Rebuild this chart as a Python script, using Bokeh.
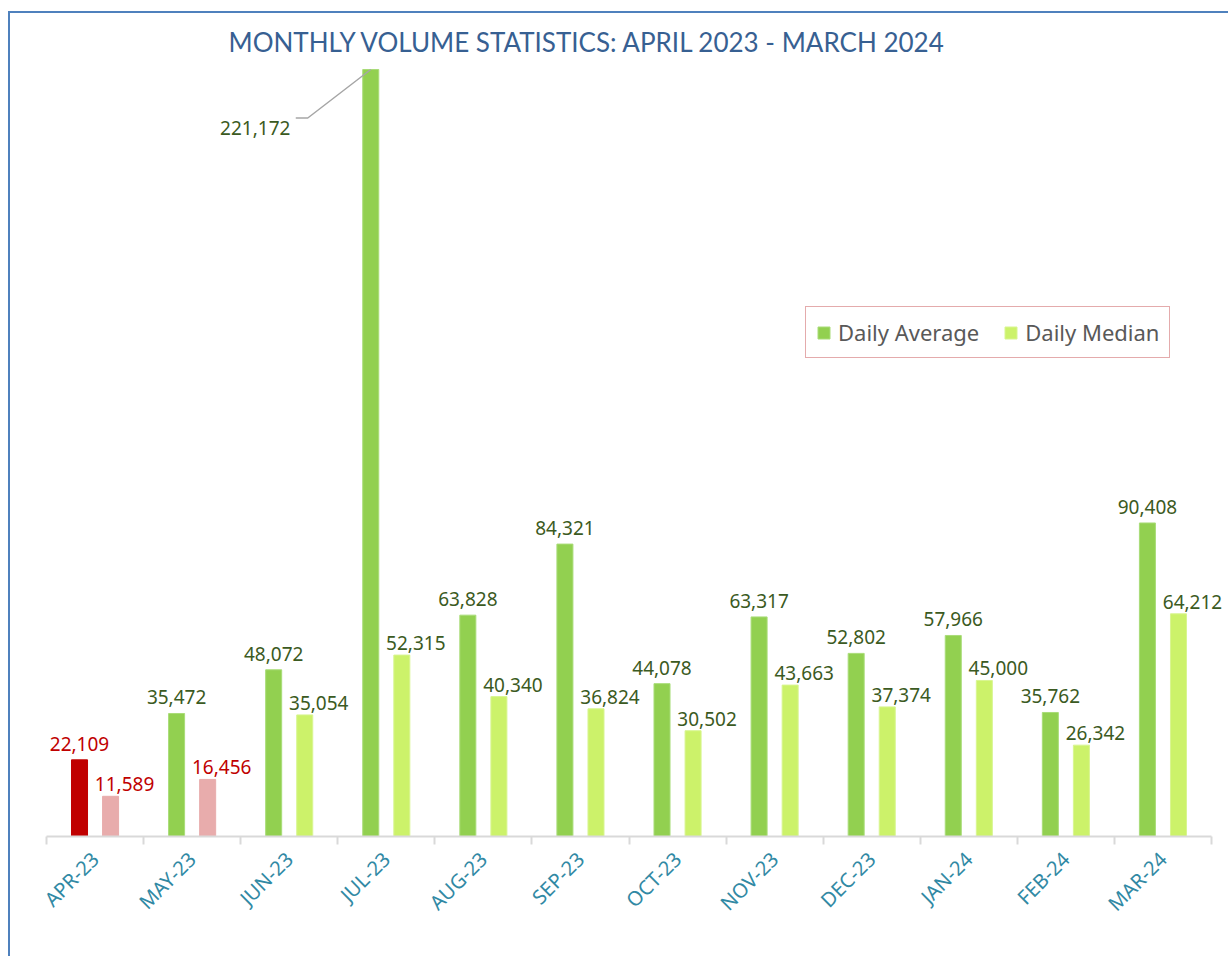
import numpy as np
from bokeh.plotting import figure
from bokeh.models import ColumnDataSource, FixedTicker, Legend, LegendItem, Range1d
from bokeh.core.properties import value
from bokeh.embed import file_html
from bokeh.resources import INLINE

# ---------------- data ----------------
months = ["APR-23", "MAY-23", "JUN-23", "JUL-23", "AUG-23", "SEP-23",
          "OCT-23", "NOV-23", "DEC-23", "JAN-24", "FEB-24", "MAR-24"]
daily_average = [22109, 35472, 48072, 221172, 63828, 84321,
                 44078, 63317, 52802, 57966, 35762, 90408]
daily_median = [11589, 16456, 35054, 52315, 40340, 36824,
                30502, 43663, 37374, 45000, 26342, 64212]
series_names = ["Daily Average", "Daily Median"]
low_threshold = 25000

# ---------------- styles ----------------
AXIS_W = 1165          # pixel width of the 12 categories
EXTRA_W = 17           # room right of the last category
FRAME_H = 776
AVG_COLOR, MED_COLOR = "#92D050", "#CCF26A"
AVG_LOW, MED_LOW = "#C00000", "#E8ACAC"
LABEL_COLOR, LOW_LABEL_COLOR = "#3B5A22", "#C00000"
FONT = "Noto Sans"
BAR_W = 0.165
OFFSET = 0.16

n = len(months)
centers = np.arange(n) + 0.5
avg = np.array(daily_average, dtype=float)
med = np.array(daily_median, dtype=float)
peak_idx = int(np.argmax(avg))
y_max = avg[peak_idx] * FRAME_H / (FRAME_H - 9)
px_per_x = AXIS_W / n
x_end = n + EXTRA_W / px_per_x

fmt = lambda v: f"{int(v):,}"

src_avg = ColumnDataSource(dict(
    x=centers - OFFSET, top=avg,
    fill=[AVG_LOW if v < low_threshold else AVG_COLOR for v in avg],
    line=[AVG_LOW if v < low_threshold else "#A9DC78" for v in avg],
    label=[fmt(v) for v in avg],
    lcolor=[LOW_LABEL_COLOR if v < low_threshold else LABEL_COLOR for v in avg],
))
src_med = ColumnDataSource(dict(
    x=centers + OFFSET, top=med,
    fill=[MED_LOW if v < low_threshold else MED_COLOR for v in med],
    line=[MED_LOW if v < low_threshold else "#D8F590" for v in med],
    label=[fmt(v) for v in med],
    lcolor=[LOW_LABEL_COLOR if v < low_threshold else LABEL_COLOR for v in med],
))

p = figure(
    frame_width=AXIS_W + EXTRA_W, frame_height=FRAME_H,
    x_range=Range1d(0, x_end), y_range=Range1d(0, y_max),
    output_backend="svg", toolbar_location=None,
    min_border_left=36, min_border_right=0, min_border_top=47, min_border_bottom=120,
    title="MONTHLY VOLUME STATISTICS: APRIL 2023 - MARCH 2024",
    styles={"border-left": "2px solid #4F81BD", "border-top": "2px solid #4F81BD",
            "margin-top": "11px", "margin-left": "8px"},
)
p.title.align = "left"
p.title.offset = 182
p.title.text_font = "Lato"
p.title.text_font_style = "normal"
p.title.text_font_size = "26px"
p.title.text_color = "#376092"
p.title.standoff = 6

p.outline_line_color = None
p.xgrid.visible = False
p.ygrid.visible = False
p.yaxis.visible = False

r_avg = p.vbar(x="x", top="top", width=BAR_W, source=src_avg,
               fill_color="fill", line_color="line", line_width=1)
r_med = p.vbar(x="x", top="top", width=BAR_W, source=src_med,
               fill_color="fill", line_color="line", line_width=1)

# data labels (all but the peak, which gets a callout)
mask = [i != peak_idx for i in range(n)]
lab_avg = ColumnDataSource({k: [v for v, m in zip(src_avg.data[k], mask) if m]
                            for k in src_avg.data})
p.text(x="x", y="top", text="label", source=lab_avg, text_color="lcolor",
       text_font=value(FONT), text_font_size="19px", text_align="center",
       text_baseline="alphabetic", y_offset=-16)
p.text(x="x", y="top", text="label", source=src_med, text_color="lcolor",
       text_font=value(FONT), text_font_size="19px", text_align="center",
       text_baseline="alphabetic", x_offset=14, y_offset=-12)

# callout for the peak
px_per_y = FRAME_H / y_max
jx, jy = centers[peak_idx] - OFFSET, avg[peak_idx]
p.line(x=[jx - 75 / px_per_x, jx - 63 / px_per_x, jx],
       y=[jy - 48.5 / px_per_y, jy - 48.5 / px_per_y, jy],
       line_color="#A6A6A6", line_width=1.5)
p.text(x=[jx], y=[jy], text=[fmt(jy)], text_color=LABEL_COLOR,
       text_font=value(FONT), text_font_size="19px", text_align="center",
       text_baseline="alphabetic", x_offset=-115.5, y_offset=58)

# x axis: labels at centres, ticks at boundaries
ax = p.xaxis[0]
ax.bounds = (0, n)
ax.ticker = FixedTicker(ticks=list(centers), minor_ticks=list(range(n + 1)))
ax.major_label_overrides = {float(c): m for c, m in zip(centers, months)}
ax.major_label_orientation = np.pi / 4
ax.major_label_text_font = FONT
ax.major_label_text_font_size = "20px"
ax.major_label_text_color = "#3189A4"
ax.major_label_standoff = 11
ax.axis_line_color = "#D9D9D9"
ax.axis_line_width = 2
ax.major_tick_line_color = None
ax.minor_tick_line_color = "#D9D9D9"
ax.minor_tick_line_width = 2
ax.minor_tick_out = 8
ax.minor_tick_in = 0

legend = Legend(items=[
    LegendItem(label=series_names[0], renderers=[r_avg], index=1),
    LegendItem(label=series_names[1], renderers=[r_med], index=2),
], orientation="horizontal", location=(759, 478))
legend.border_line_color = "#C9585A"
legend.border_line_width = 1
legend.background_fill_alpha = 1
legend.label_text_font = FONT
legend.label_text_font_size = "22px"
legend.label_text_color = "#595959"
legend.glyph_width = 15
legend.glyph_height = 15
legend.label_standoff = 7
legend.spacing = 24
legend.padding = 10
legend.margin = 0
p.add_layout(legend)

open("out.html", "w").write(file_html(p, INLINE))
